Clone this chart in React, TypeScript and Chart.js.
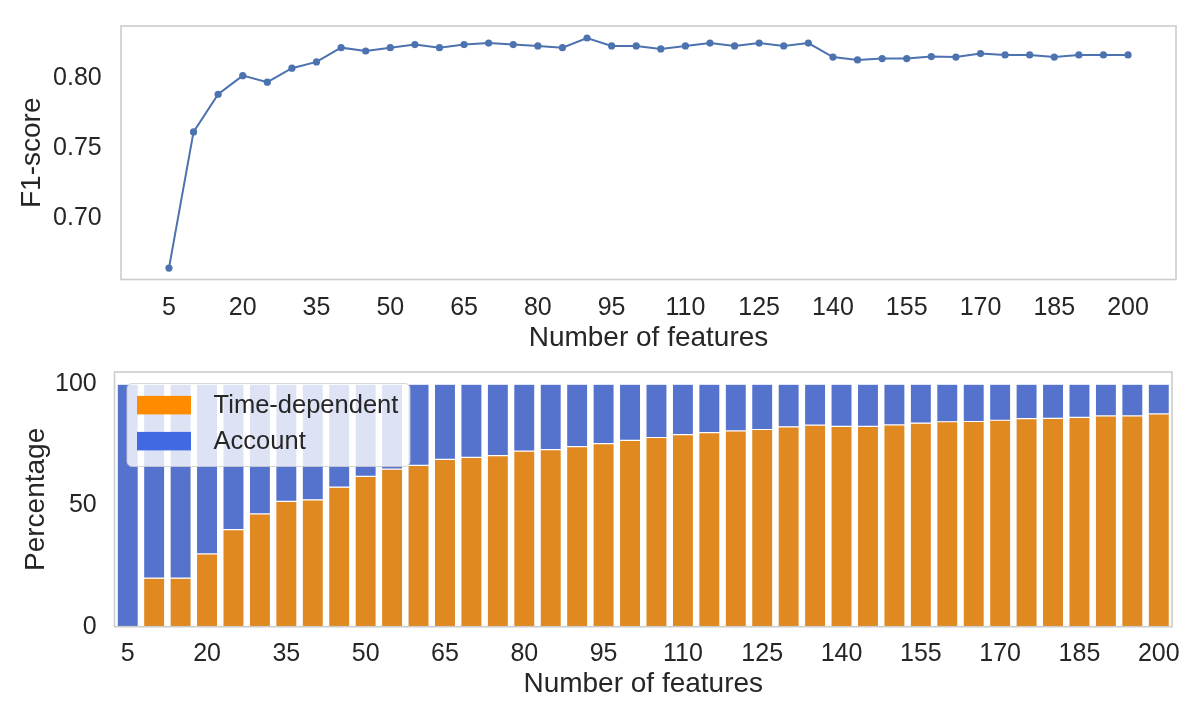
import React, { useEffect, useRef } from "react";
import { Chart, registerables } from "chart.js";

Chart.register(...registerables);

// ---------- data ----------
const featureCounts = [
  5, 10, 15, 20, 25, 30, 35, 40, 45, 50, 55, 60, 65, 70, 75, 80, 85, 90, 95, 100,
  105, 110, 115, 120, 125, 130, 135, 140, 145, 150, 155, 160, 165, 170, 175, 180, 185, 190, 195, 200,
];

const f1Scores = [
  0.6646, 0.7619, 0.7888, 0.8021, 0.7974, 0.8074, 0.8119, 0.8221, 0.8197, 0.8221,
  0.8243, 0.8221, 0.8243, 0.8254, 0.8243, 0.8233, 0.8221, 0.829, 0.8233, 0.8233,
  0.8212, 0.8233, 0.8254, 0.8233, 0.8254, 0.8233, 0.8254, 0.8154, 0.8133, 0.8143,
  0.8143, 0.8157, 0.8154, 0.8179, 0.8169, 0.8169, 0.8154, 0.8169, 0.8169, 0.8169,
];

const timeDependentPct = [
  0, 20, 20, 30, 40, 46.5, 51.7, 52.3, 57.5, 62, 65, 66.5, 69, 69.8, 70.5, 72.4, 73, 74.2, 75.5, 76.8,
  78, 79.2, 80, 80.7, 81.3, 82.4, 83.1, 82.6, 82.6, 83.2, 83.9, 84.5, 84.6, 85.1, 85.8, 85.9, 86.3, 86.9, 86.9, 87.7,
];

const accountPct = [
  100, 80, 80, 70, 60, 53.5, 48.3, 47.7, 42.5, 38, 35, 33.5, 31, 30.2, 29.5, 27.6, 27, 25.8, 24.5, 23.2,
  22, 20.8, 20, 19.3, 18.7, 17.6, 16.9, 17.4, 17.4, 16.8, 16.1, 15.5, 15.4, 14.9, 14.2, 14.1, 13.7, 13.1, 13.1, 12.3,
];

const xTickValues = [5, 20, 35, 50, 65, 80, 95, 110, 125, 140, 155, 170, 185, 200];
const f1TickValues = [0.7, 0.75, 0.8];
const pctTickValues = [0, 50, 100];
const seriesNames = ["Time-dependent", "Account"];

// ---------- styles ----------
const FONT = '"Liberation Sans", Arial, "DejaVu Sans", sans-serif';
const TEXT = "#262626";
const LINE_BLUE = "#4C72B0";
const BAR_ORANGE = "#DF8920";
const BAR_BLUE = "#5573CD";
const LEGEND_COLORS = ["#FF8C00", "#4169E1"];
const FRAME = "#CCCCCC";

const framePlugin = {
  id: "frame",
  afterDatasetsDraw(chart: any) {
    const { ctx, chartArea: a } = chart;
    ctx.save();
    ctx.strokeStyle = FRAME;
    ctx.lineWidth = 1.6;
    ctx.strokeRect(a.left, a.top, a.right - a.left, a.bottom - a.top);
    ctx.restore();
  },
};

const boxLegendPlugin = {
  id: "boxLegend",
  afterDraw(chart: any) {
    const { ctx, chartArea: a } = chart;
    const x = a.left + 12.5;
    const y = a.top + 11.5;
    const w = 283;
    const h = 83;
    ctx.save();
    ctx.beginPath();
    if ((ctx as any).roundRect) (ctx as any).roundRect(x, y, w, h, 5);
    else ctx.rect(x, y, w, h);
    ctx.fillStyle = "rgba(255,255,255,0.8)";
    ctx.fill();
    ctx.strokeStyle = "rgba(204,204,204,0.8)";
    ctx.lineWidth = 1;
    ctx.stroke();
    ctx.font = `25.5px ${FONT}`;
    ctx.textBaseline = "middle";
    ctx.textAlign = "left";
    chart.data.datasets.forEach((ds: any, i: number) => {
      const rowTop = y + 12.4 + i * 36;
      ctx.fillStyle = LEGEND_COLORS[i];
      ctx.fillRect(x + 10, rowTop, 54, 18.5);
      ctx.fillStyle = TEXT;
      ctx.fillText(ds.label, x + 86.6, rowTop + 10);
    });
    ctx.restore();
  },
};

const tickFont = { size: 25, family: FONT };
const titleFont = { size: 28, family: FONT };

const zeroPad = (s: any) => {
  s.paddingTop = 0;
  s.paddingBottom = 0;
  s.paddingLeft = 0;
  s.paddingRight = 0;
};

export default function App() {
  const topRef = useRef<HTMLCanvasElement>(null);
  const botRef = useRef<HTMLCanvasElement>(null);

  useEffect(() => {
    Chart.defaults.font.family = FONT;
    Chart.defaults.color = TEXT;

    const top = new Chart(topRef.current as HTMLCanvasElement, {
      type: "line",
      data: {
        datasets: [
          {
            label: "F1-score",
            data: featureCounts.map((x, i) => ({ x, y: f1Scores[i] })),
            borderColor: LINE_BLUE,
            backgroundColor: LINE_BLUE,
            borderWidth: 2,
            pointRadius: 3.6,
            pointHoverRadius: 3.6,
            pointBorderWidth: 0,
            tension: 0,
          },
        ],
      },
      options: {
        animation: false,
        responsive: false,
        events: [],
        layout: { padding: { left: 0, right: 20, top: 26, bottom: 5.4 } },
        plugins: { legend: { display: false }, tooltip: { enabled: false } },
        scales: {
          x: {
            type: "linear",
            min: -4.75,
            max: 209.75,
            grid: { display: false, drawTicks: false },
            border: { display: false },
            afterBuildTicks: (s: any) => {
              s.ticks = xTickValues.map((v) => ({ value: v }));
            },
            afterFit: (s: any) => {
              s.height = 75.1;
              zeroPad(s);
            },
            ticks: {
              padding: 13.3,
              color: TEXT,
              font: tickFont,
              maxRotation: 0,
              autoSkip: false,
              callback: (v: any) => String(v),
            },
            title: {
              display: true,
              text: "Number of features",
              color: TEXT,
              font: titleFont,
              padding: { top: 0, bottom: 0 },
            },
          },
          y: {
            type: "linear",
            min: 0.65643,
            max: 0.83757,
            grid: { display: false, drawTicks: false },
            border: { display: false },
            afterBuildTicks: (s: any) => {
              s.ticks = f1TickValues.map((v) => ({ value: v }));
            },
            afterFit: (s: any) => {
              s.width = 121;
              zeroPad(s);
            },
            ticks: {
              padding: 19.3,
              color: TEXT,
              font: tickFont,
              callback: (v: any) => Number(v).toFixed(2),
            },
            title: {
              display: true,
              text: "F1-score",
              color: TEXT,
              font: titleFont,
              padding: { top: 15.2, bottom: 0 },
            },
          },
        },
      },
      plugins: [framePlugin],
    } as any);

    const bot = new Chart(botRef.current as HTMLCanvasElement, {
      type: "bar",
      data: {
        labels: featureCounts.map(String),
        datasets: [
          {
            label: seriesNames[0],
            data: timeDependentPct,
            backgroundColor: BAR_ORANGE,
            borderColor: "#FFFFFF",
            borderWidth: 0.6,
            borderSkipped: false,
            barPercentage: 0.8,
            categoryPercentage: 1,
          },
          {
            label: seriesNames[1],
            data: accountPct,
            backgroundColor: BAR_BLUE,
            borderColor: "#FFFFFF",
            borderWidth: 0.6,
            borderSkipped: false,
            barPercentage: 0.8,
            categoryPercentage: 1,
          },
        ],
      },
      options: {
        animation: false,
        responsive: false,
        events: [],
        layout: { padding: { left: 0, right: 24, top: 12, bottom: 11.2 } },
        plugins: { legend: { display: false }, tooltip: { enabled: false } },
        scales: {
          x: {
            stacked: true,
            grid: { display: false, drawTicks: false },
            border: { display: false },
            afterFit: (s: any) => {
              s.height = 74.1;
              zeroPad(s);
            },
            ticks: {
              padding: 12.1,
              color: TEXT,
              font: tickFont,
              maxRotation: 0,
              autoSkip: false,
              callback: (_v: any, i: number) => (i % 3 === 0 ? String(featureCounts[i]) : ""),
            },
            title: {
              display: true,
              text: "Number of features",
              color: TEXT,
              font: titleFont,
              padding: { top: 0, bottom: 0 },
            },
          },
          y: {
            stacked: true,
            min: 0,
            max: 105,
            grid: { display: false, drawTicks: false },
            border: { display: false },
            afterBuildTicks: (s: any) => {
              s.ticks = pctTickValues.map((v) => ({ value: v }));
            },
            afterFit: (s: any) => {
              s.width = 114.5;
              zeroPad(s);
            },
            ticks: {
              padding: 17.8,
              color: TEXT,
              font: tickFont,
              callback: (v: any) => String(v),
            },
            title: {
              display: true,
              text: "Percentage",
              color: TEXT,
              font: titleFont,
              padding: { top: 19.2, bottom: 0 },
            },
          },
        },
      },
      plugins: [framePlugin, boxLegendPlugin],
    } as any);

    return () => {
      top.destroy();
      bot.destroy();
    };
  }, []);

  return (
    <div
      style={{
        position: "fixed",
        left: 0,
        top: 0,
        width: 1196,
        height: 712,
        background: "#FFFFFF",
        overflow: "hidden",
      }}
    >
      <canvas
        ref={topRef}
        width={1196}
        height={360}
        style={{ position: "absolute", left: 0, top: 0, width: 1196, height: 360 }}
      />
      <canvas
        ref={botRef}
        width={1196}
        height={352}
        style={{ position: "absolute", left: 0, top: 360, width: 1196, height: 352 }}
      />
    </div>
  );
}
